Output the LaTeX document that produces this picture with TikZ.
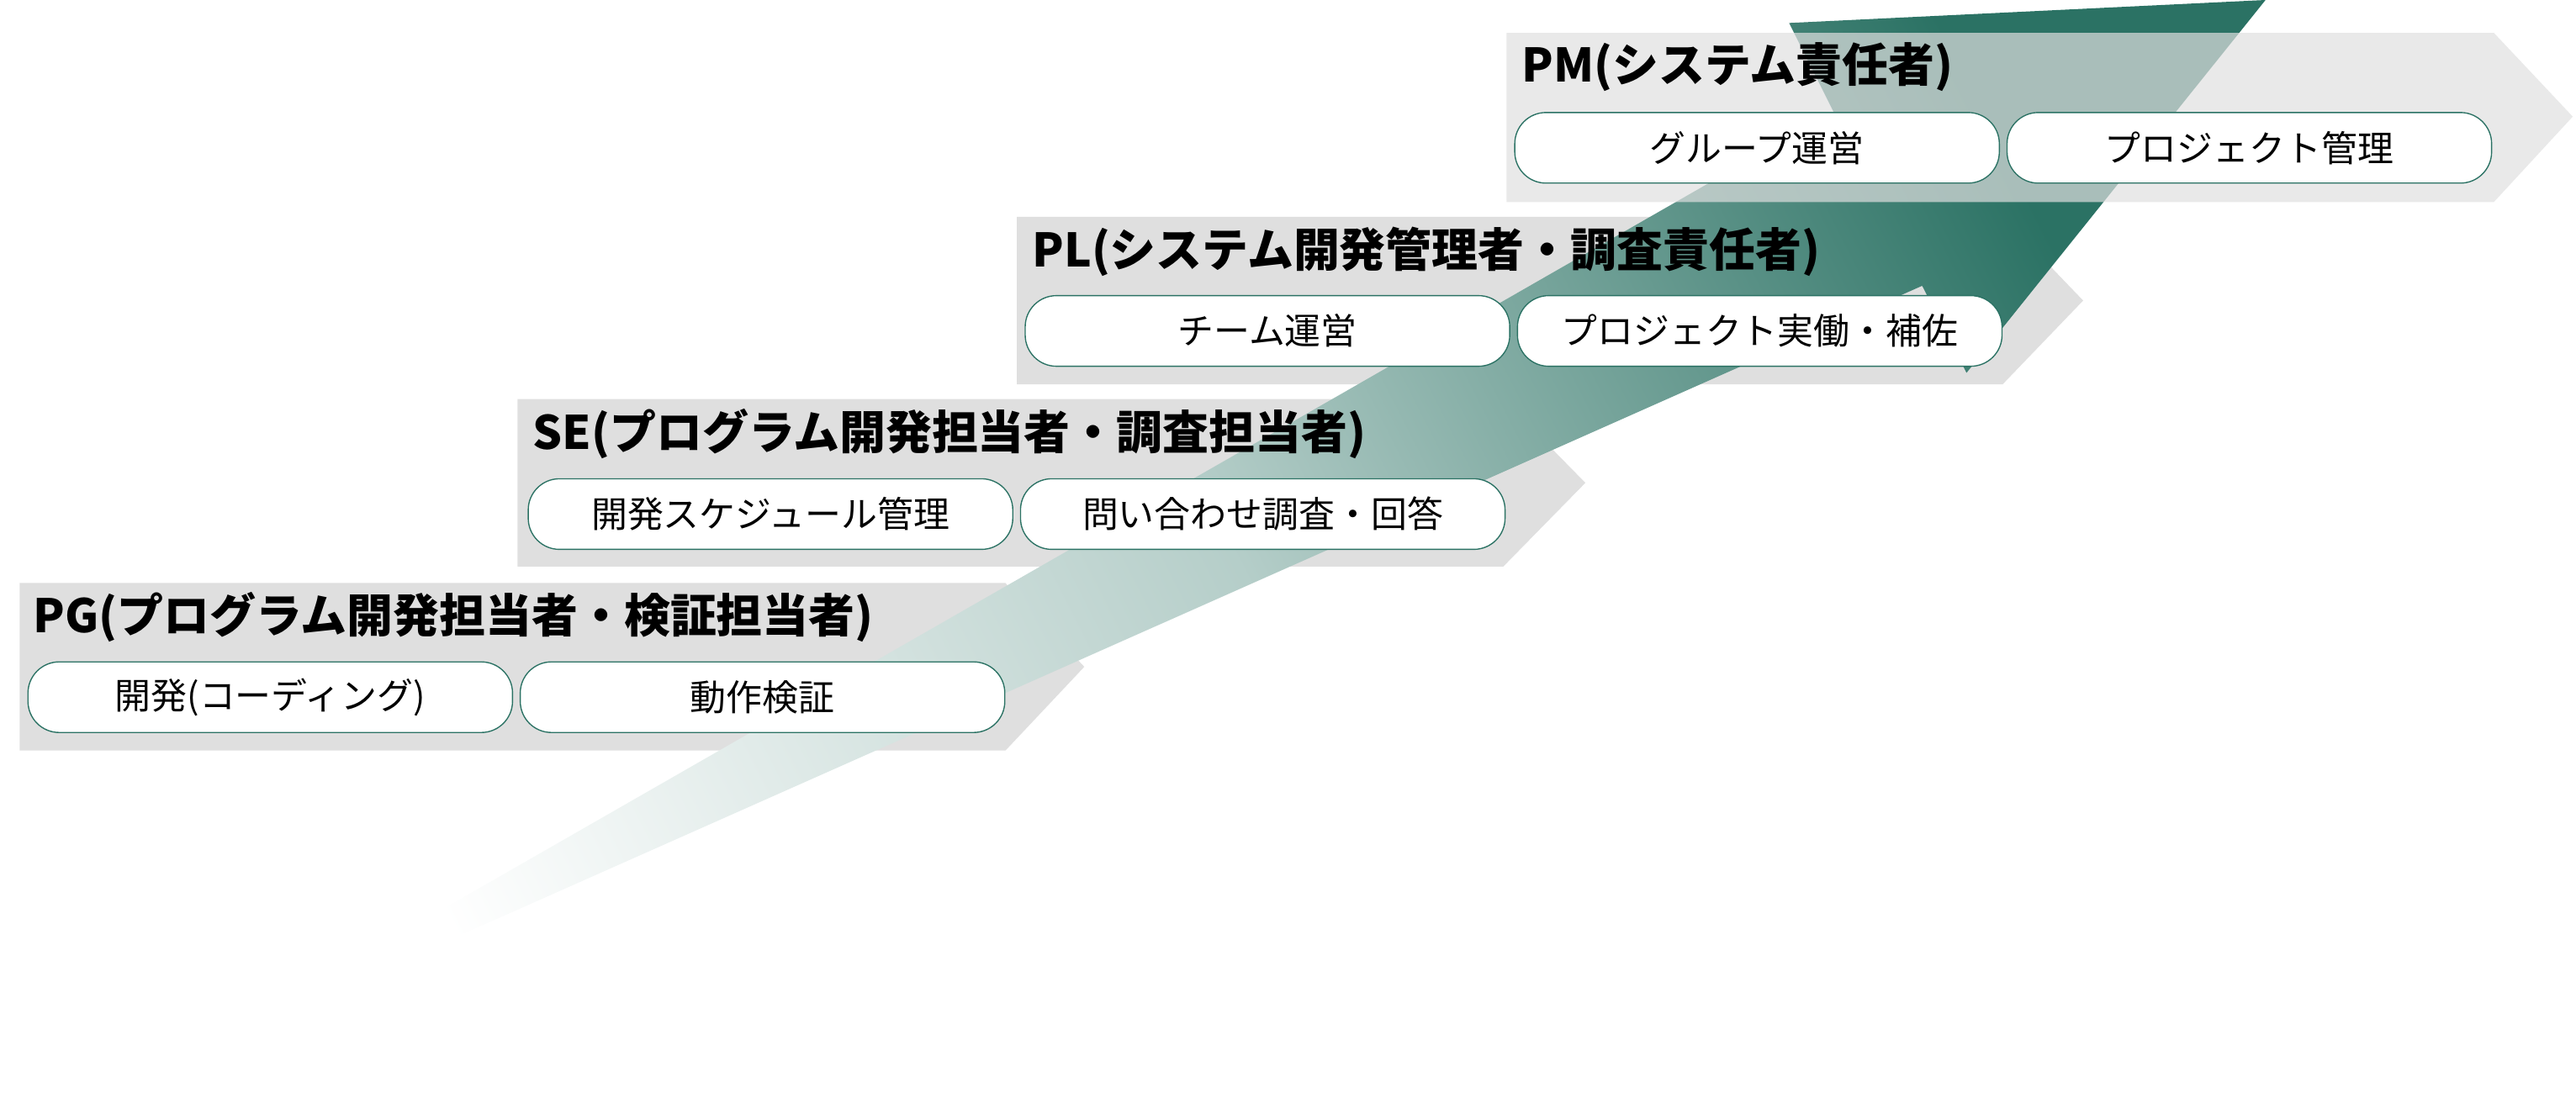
\documentclass[tikz,border=0pt]{standalone}
\usepackage{fontspec}
\setmainfont{Noto Sans CJK JP}
\usetikzlibrary{positioning}
\definecolor{bandgray}{HTML}{DFDFDF}
\definecolor{teal}{HTML}{2B7264}
\begin{document}
\begin{tikzpicture}[x=0.02cm, y=-0.02cm, node distance=4]

        % Styles
        \tikzset{band/.style={fill=bandgray},
                 title/.style={anchor=west, font=\fontsize{16}{18}\selectfont\bfseries, inner sep=0},
                 task/.style={draw=teal, fill=white, rounded corners=0.38cm, minimum width=5.9cm, minimum height=0.86cm, inner sep=0, font=\fontsize{12.5}{14}\selectfont}}
        \useasboundingbox (0,0) rectangle (1568,677.8);

        % Bands
        \fill[band] (12,355) -- (612,355) -- (660,406) -- (612,457) -- (12,457) -- cycle;
        \fill[band] (315,243) -- (915,243) -- (965,294) -- (915,345) -- (315,345) -- cycle;
        \fill[band] (619,132) -- (1219,132) -- (1268,183) -- (1219,234) -- (619,234) -- cycle;

        % Growth arrow
        \coordinate (tail) at (110,645);
        \coordinate (tip) at (1379,0);
        \shade[left color=white, right color=teal, middle color=teal!35!white, shading angle=117]
              (tail) -- (1116,68) -- (1089,14) -- (tip) -- (1197,227) -- (1170,174) -- cycle;

        % Top band
        \fill[band, fill opacity=0.7] (917,20) -- (1518,20) -- (1566,71) -- (1518,123) -- (917,123) -- cycle;

        % Titles
        \node[title] (pg) at (20,376) {PG(プログラム開発担当者・検証担当者)};
        \node[title] (se) at (324,264) {SE(プログラム開発担当者・調査担当者)};
        \node[title] (pl) at (628,153) {PL(システム開発管理者・調査責任者)};
        \node[title] (pm) at (926,41) {PM(システム責任者)};

        % Tasks
        \node[task] (coding) at (164.5,424.5) {開発(コーディング)};
        \node[task] (verify) [right=of coding] {動作検証};
        \node[task] (schedule) at (469,313) {開発スケジュール管理};
        \node[task] (inquiry) [right=of schedule] {問い合わせ調査・回答};
        \node[task] (team) at (771.5,201.5) {チーム運営};
        \node[task] (support) [right=of team] {プロジェクト実働・補佐};
        \node[task] (group) at (1069.5,90) {グループ運営};
        \node[task] (project) [right=of group] {プロジェクト管理};

\end{tikzpicture}
\end{document}
